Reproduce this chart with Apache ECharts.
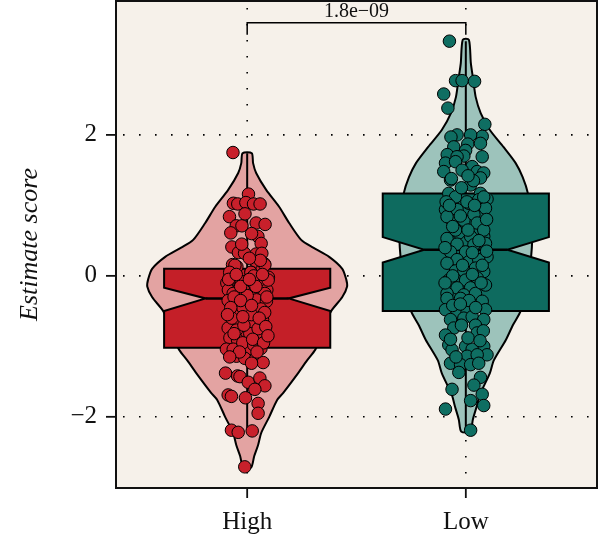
<!DOCTYPE html>
<html lang="en">
<head>
    <meta charset="UTF-8">
    <title>Estimate score</title>
    <script src="https://cdn.jsdelivr.net/npm/echarts@6.0.0/dist/echarts.min.js"></script>
    <style>
        html, body { margin: 0; padding: 0; background: #ffffff; }
    </style>
</head>
<body>
    <div id="main" style="width: 600px;height:542px;"></div>
    <script type="text/javascript">
        const groups = ['High', 'Low'];
        const yTicks = [-2, 0, 2];
        const xTicks = [1, 2];
        const pLabel = '1.8e\u221209';

        // violin outline: score and half width (x units)
        const highViolinY = [1.74, 1.6, 1.46, 1.22, 0.98, 0.75, 0.51, 0.4, 0.27, 0.1, -0.05, -0.15, -0.3, -0.5, -0.7, -0.9, -1.05, -1.2, -1.38, -1.66, -1.76, -2.0, -2.23, -2.4, -2.56, -2.72];
        const highViolinW = [0.021, 0.027, 0.041, 0.087, 0.146, 0.192, 0.247, 0.302, 0.375, 0.435, 0.453, 0.457, 0.435, 0.384, 0.352, 0.334, 0.311, 0.274, 0.233, 0.165, 0.137, 0.101, 0.064, 0.05, 0.032, 0.018];
        const lowViolinY = [3.35, 3.02, 2.78, 2.54, 2.31, 2.07, 1.83, 1.6, 1.4, 1.17, 0.8, 0.4, 0.0, -0.49, -0.7, -0.91, -1.2, -1.38, -1.69, -1.85, -2.04, -2.21];
        const lowViolinW = [0.014, 0.023, 0.034, 0.045, 0.068, 0.11, 0.172, 0.228, 0.26, 0.284, 0.302, 0.302, 0.288, 0.252, 0.215, 0.183, 0.128, 0.11, 0.064, 0.05, 0.032, 0.021];

        // box: whisker low, q1, notch low, median, notch high, q3, whisker high
        const highBox = [-2.2, -1.02, -0.5, -0.32, -0.17, 0.1, 1.74];
        const lowBox = [-2.19, -0.5, 0.19, 0.37, 0.55, 1.17, 3.33];

        // jittered points: [x offset, score]
        const highPoints = [
            [-0.065, 1.75], [0.006, 1.16], [-0.063, 1.03], [-0.043, 1.02], [-0.006, 1.04], [0.029, 1.02], [0.059, 1.02],
            [-0.081, 0.84], [-0.05, 0.71], [-0.024, 0.71], [0.041, 0.75], [0.082, 0.73], [-0.075, 0.61], [0.049, 0.56],
            [0.064, 0.46], [-0.07, 0.41], [-0.04, 0.33], [-0.012, 0.32], [0.041, 0.31], [0.067, 0.32], [-0.067, 0.16],
            [-0.047, 0.13], [0.044, 0.17], [0.079, 0.17], [0.018, 0.05], [0.067, 0.08], [-0.078, -0.01], [-0.047, -0.06],
            [0.097, -0.02], [-0.093, -0.1], [-0.032, -0.08], [0.006, -0.1], [0.052, -0.1], [0.075, -0.13], [-0.086, -0.2],
            [-0.047, -0.22], [-0.017, -0.2], [0.037, -0.22], [0.09, -0.2], [-0.056, 0.15], [0.081, 0.156], [0.017, 0.05],
            [-0.026, -0.08], [0.096, -0.06], [-0.064, -0.25], [0.035, -0.22], [0.081, -0.25], [-0.087, -0.35], [-0.011, -0.39],
            [0.043, -0.34], [0.088, -0.36], [-0.056, -0.51], [0.063, -0.47], [-0.038, -0.66], [0.012, -0.67], [-0.087, -0.74],
            [-0.049, -0.77], [0.012, -0.82], [0.054, -0.88], [-0.079, -0.88], [-0.044, -0.91], [-0.095, -1.04], [-0.064, -1.04],
            [0.012, -1.03], [0.063, -1.03], [-0.049, -1.14], [-0.011, -1.17], [0.038, -1.18], [0.073, -1.23], [-0.099, -1.38],
            [-0.044, -1.42], [-0.033, -1.43], [0.005, -1.51], [0.058, -1.45], [0.081, -1.56], [0.035, -1.61], [-0.087, -1.69],
            [-0.072, -1.71], [-0.008, -1.73], [0.05, -1.81], [0.05, -1.95], [-0.072, -2.19], [-0.041, -2.22], [0.023, -2.2],
            [-0.011, -2.71], [-0.02, -0.45], [0.02, -0.55], [-0.07, -0.6], [0.07, -0.62], [0.0, -0.28], [-0.03, -0.15],
            [0.03, 0.0], [0.05, -0.75], [-0.02, -0.95], [0.03, -0.98], [-0.06, -0.3], [0.08, -0.52], [0.06, 0.22],
            [-0.08, 0.05], [0.01, 0.25], [-0.085, -0.05], [0.09, -0.3], [-0.03, -0.35], [0.02, -0.42], [-0.075, -0.45],
            [0.055, -0.6], [-0.015, -0.7], [0.085, -0.72], [-0.06, -0.82], [0.025, -0.9], [0.075, -0.95], [-0.035, -1.08],
            [0.045, -1.08], [-0.08, -1.15], [0.02, -1.24], [-0.02, -0.58], [0.04, -0.15], [-0.05, 0.02], [0.01, -0.05],
            [0.07, 0.02], [-0.09, -0.55], [0.095, -0.85], [-0.025, 0.45], [0.02, 0.6], [-0.01, 0.88]
        ];
        const lowPoints = [
            [-0.075, 3.33], [-0.047, 2.77], [-0.017, 2.77], [0.04, 2.76], [-0.101, 2.58], [-0.082, 2.38], [0.087, 2.15],
            [0.075, 1.98], [0.022, 2.0], [-0.04, 2.0], [-0.068, 1.97], [0.009, 1.87], [0.067, 1.88], [-0.055, 1.83],
            [-0.001, 1.78], [-0.085, 1.72], [-0.009, 1.7], [0.075, 1.69], [-0.04, 1.69], [-0.093, 1.6], [-0.047, 1.62],
            [0.029, 1.55], [-0.101, 1.48], [-0.017, 1.5], [0.052, 1.48], [0.082, 1.46], [-0.07, 1.36], [0.022, 1.29],
            [0.067, 1.39], [-0.078, 1.17], [-0.047, 1.12], [0.067, 1.17], [0.097, 1.09], [-0.093, 0.94], [0.014, 1.03],
            [0.059, 1.08], [-0.063, 0.79], [-0.009, 0.79], [0.059, 0.84], [0.09, 0.96], [-0.086, 0.53], [-0.032, 0.61],
            [0.022, 0.56], [0.082, 0.56], [-0.066, 1.38], [0.005, 1.05], [0.082, 1.12], [-0.04, 0.94], [0.037, 0.87],
            [-0.086, 0.84], [0.052, 0.75], [-0.047, 0.65], [0.082, 0.65], [0.09, 0.46], [-0.04, 0.45], [0.037, 0.44],
            [-0.001, 0.34], [-0.07, 0.34], [0.097, 0.27], [-0.04, 0.23], [0.014, 0.2], [0.059, 0.23], [-0.086, 0.18],
            [-0.047, 0.07], [-0.009, 0.07], [0.044, 0.11], [0.082, 0.06], [-0.078, -0.06], [-0.001, -0.06], [0.052, -0.03],
            [-0.04, -0.17], [0.022, -0.17], [0.09, -0.13], [-0.086, -0.25], [-0.009, -0.27], [0.044, -0.25], [-0.086, -0.32],
            [-0.024, -0.32], [0.075, -0.36], [-0.093, -0.48], [-0.04, -0.53], [0.006, -0.51], [0.09, -0.48], [-0.07, -0.62],
            [-0.009, -0.6], [0.029, -0.58], [0.082, -0.62], [-0.055, -0.74], [0.044, -0.7], [-0.093, -0.84], [0.052, -0.81],
            [-0.078, -0.98], [-0.001, -1.0], [0.082, -1.0], [-0.063, -1.05], [0.029, -1.04], [0.097, -1.12], [0.006, -1.14],
            [0.052, -1.12], [-0.07, -1.24], [-0.024, -1.26], [0.022, -1.26], [0.059, -1.24], [-0.032, -1.37], [0.067, -1.44],
            [0.037, -1.55], [-0.063, -1.61], [0.075, -1.68], [0.022, -1.77], [0.082, -1.84], [-0.093, -1.89], [0.022, -2.19],
            [-0.02, 1.25], [0.035, 1.35], [-0.09, 1.05], [0.04, 1.0], [-0.025, 0.85], [0.095, 0.8], [-0.06, 0.7],
            [0.01, 0.65], [0.06, 0.5], [-0.095, 0.4], [0.03, 0.33], [-0.015, 0.15], [0.075, 0.15], [-0.06, 0.0],
            [0.03, 0.02], [0.07, -0.1], [-0.095, -0.1], [0.015, -0.35], [-0.06, -0.42], [0.045, -0.45], [-0.02, -0.7],
            [0.08, -0.78], [-0.07, -0.9], [0.01, -0.88], [-0.045, -1.15], [0.065, -0.92], [-0.025, -0.4], [0.095, 0.35],
            [-0.075, 1.0], [0.01, 1.42]
        ];

        const violinFill = ['#e3a3a2', '#9dc3bb'];
        const boxFill = ['#c41f28', '#0e6b5f'];
        const pointFill = ['#c8202b', '#0f6e62'];
        const boxHalf = 0.38;
        const notchHalf = 0.19;
        const serif = '"Liberation Serif", "Times New Roman", serif';
        const xMin = 0.4, xMax = 2.6, yMin = -3.01, yMax = 3.9;

        const violins = [[highViolinY, highViolinW], [lowViolinY, lowViolinW]];
        const boxes = [highBox, lowBox];

        function renderGrid(params, api) {
            const v = api.value(0);
            const dir = api.value(1);
            let a, b;
            if (dir === 0) { a = api.coord([xMin, v]); b = api.coord([xMax, v]); }
            else { a = api.coord([v, yMax]); b = api.coord([v, yMin]); }
            return {
                type: 'line',
                shape: { x1: a[0], y1: a[1], x2: b[0], y2: b[1] },
                style: { stroke: '#000', lineWidth: 1.6, lineDash: [1.6, 14.4], lineDashOffset: -7 }
            };
        }

        function renderViolin(params, api) {
            const g = api.value(0);
            const ys = violins[g - 1][0], ws = violins[g - 1][1];
            const pts = [];
            for (let i = 0; i < ys.length; i++) pts.push(api.coord([g + ws[i], ys[i]]));
            for (let i = ys.length - 1; i >= 0; i--) pts.push(api.coord([g - ws[i], ys[i]]));
            return {
                type: 'polygon',
                shape: { points: pts, smooth: 0.25 },
                style: { fill: violinFill[g - 1], stroke: '#000', lineWidth: 2 }
            };
        }

        function renderBox(params, api) {
            const g = api.value(0);
            const s = boxes[g - 1];
            const c = (x, y) => api.coord([x, y]);
            const L = g - boxHalf, R = g + boxHalf, nl = g - notchHalf, nr = g + notchHalf;
            const pts = [
                c(L, s[5]), c(R, s[5]), c(R, s[4]), c(nr, s[3]), c(R, s[2]), c(R, s[1]),
                c(L, s[1]), c(L, s[2]), c(nl, s[3]), c(L, s[4])
            ];
            const top = c(g, s[6]), bot = c(g, s[0]);
            const m1 = c(nl, s[3]), m2 = c(nr, s[3]);
            return {
                type: 'group',
                children: [
                    { type: 'line', shape: { x1: top[0], y1: top[1], x2: bot[0], y2: bot[1] }, style: { stroke: '#000', lineWidth: 2 } },
                    { type: 'polygon', shape: { points: pts }, style: { fill: boxFill[g - 1], stroke: '#000', lineWidth: 2 } },
                    { type: 'line', shape: { x1: m1[0], y1: m1[1], x2: m2[0], y2: m2[1] }, style: { stroke: '#000', lineWidth: 2.5 } }
                ]
            };
        }

        function renderBracket(params, api) {
            const a = api.coord([1, 3.42]), b = api.coord([1, 3.59]);
            const c2 = api.coord([2, 3.59]), d = api.coord([2, 3.42]);
            const mid = api.coord([1.5, 3.59]);
            return {
                type: 'group',
                children: [
                    { type: 'polyline', shape: { points: [a, b, c2, d] }, style: { stroke: '#000', lineWidth: 1.5, fill: null } },
                    { type: 'text', style: { x: mid[0], y: mid[1] - 1, text: pLabel, fontSize: 20, fontFamily: serif, fill: '#111', align: 'center', verticalAlign: 'bottom' } }
                ]
            };
        }

        const gridLines = yTicks.map(v => [v, 0]).concat(xTicks.map(v => [v, 1]));

        const options = {
            animation: false,
            grid: {
                left: 116, right: 3, top: 1, bottom: 54,
                show: true, backgroundColor: '#f6f1ea', borderColor: '#111', borderWidth: 2
            },
            xAxis: {
                type: 'value', min: xMin, max: xMax,
                axisLine: { show: false, onZero: false },
                splitLine: { show: false },
                axisTick: { show: false },
                axisLabel: {
                    customValues: xTicks, margin: 22,
                    formatter: v => groups[Math.round(v) - 1],
                    fontFamily: serif, fontSize: 25, color: '#111'
                }
            },
            yAxis: {
                type: 'value', min: yMin, max: yMax,
                name: 'Estimate score', nameLocation: 'middle', nameGap: 73,
                nameTextStyle: { fontFamily: serif, fontSize: 26, fontStyle: 'italic', color: '#111' },
                axisLine: { show: false, onZero: false },
                splitLine: { show: false },
                axisTick: { show: false },
                axisLabel: {
                    customValues: yTicks, margin: 19,
                    formatter: v => String(v).replace('-', '\u2212'),
                    fontFamily: serif, fontSize: 25, color: '#111'
                }
            },
            series: [
                { type: 'custom', z: 1, silent: true, renderItem: renderGrid, data: gridLines, clip: true },
                { type: 'custom', z: 2, silent: true, renderItem: renderViolin, data: [[1], [2]] },
                { type: 'custom', z: 3, silent: true, renderItem: renderBox, data: [[1], [2]] },
                {
                    type: 'scatter', z: 4, symbolSize: 12.5,
                    data: highPoints.map(p => [1 + p[0], p[1]]),
                    itemStyle: { color: pointFill[0], borderColor: '#000', borderWidth: 1, opacity: 1 }
                },
                {
                    type: 'scatter', z: 4, symbolSize: 12.5,
                    data: lowPoints.map(p => [2 + p[0], p[1]]),
                    itemStyle: { color: pointFill[1], borderColor: '#000', borderWidth: 1, opacity: 1 }
                },
                { type: 'custom', z: 5, silent: true, renderItem: renderBracket, data: [[1]] }
            ]
        };

        const myChart = echarts.init(document.getElementById('main'));
        myChart.setOption(options);

        // outward tick marks, placed through the chart's own scales
        const tickEls = [];
        yTicks.forEach(v => {
            const p = myChart.convertToPixel({ gridIndex: 0 }, [xMin, v]);
            tickEls.push({ type: 'rect', z: 100, silent: true, shape: { x: p[0] - 10, y: p[1] - 0.9, width: 9, height: 1.8 }, style: { fill: '#111' } });
        });
        xTicks.forEach(v => {
            const p = myChart.convertToPixel({ gridIndex: 0 }, [v, yMin]);
            tickEls.push({ type: 'rect', z: 100, silent: true, shape: { x: p[0] - 0.9, y: p[1] + 1, width: 1.8, height: 9 }, style: { fill: '#111' } });
        });
        myChart.setOption({ graphic: { elements: tickEls } });
    </script>
</body>
</html>
